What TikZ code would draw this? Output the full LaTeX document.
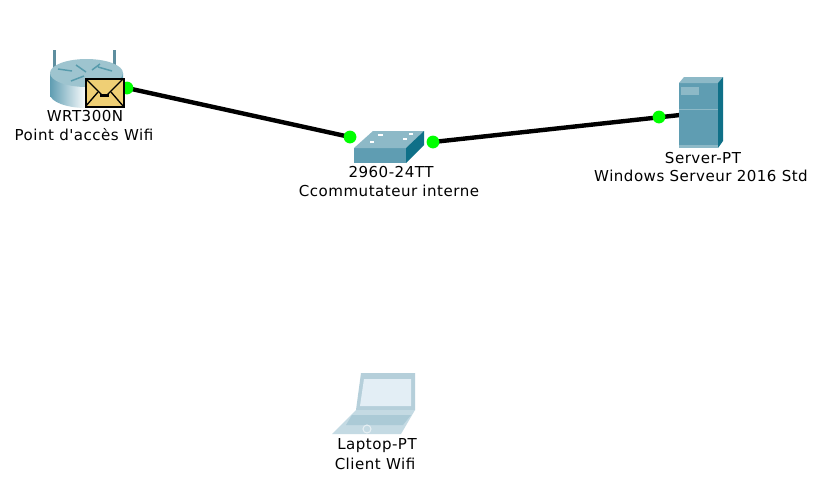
\documentclass[tikz,border=0pt]{standalone}
\usepackage{fontspec}
\newfontfamily\labelfont[LetterSpace=3.2]{DejaVu Sans}
\definecolor{devteal}{HTML}{5F9DB2}
\definecolor{devdark}{HTML}{0F7088}
\definecolor{devlight}{HTML}{8DB9C7}
\definecolor{antenna}{HTML}{5E8E9F}
\definecolor{lapframe}{HTML}{B5CFDA}
\definecolor{lapscreen}{HTML}{E3EEF5}
\definecolor{lapbase}{HTML}{C4DAE3}
\definecolor{lapkeys}{HTML}{ABCAD6}
\definecolor{envfill}{HTML}{EFCF75}
\tikzset{
  x=0.75pt,y=-0.75pt,
  linkline/.style={line width=3.3pt,black},
  portdot/.style={circle,fill=green,inner sep=0pt,minimum size=9.6pt,draw=none},
  devlabel/.style={font=\labelfont\fontsize{11.3pt}{13pt}\selectfont,text=black,inner sep=0pt,align=center,anchor=center},
}
\begin{document}
\begin{tikzpicture}
\useasboundingbox (0,0) rectangle (835,487);
\fill[white] (0,0) rectangle (835,487);
% anchors
\coordinate (routerport) at (127,88);
\coordinate (swleft) at (350,137);
\coordinate (swright) at (433,142);
\coordinate (srvedge) at (680,115);
% links
\draw[linkline] (routerport) -- (swleft);
\draw[linkline] (swright) -- (srvedge);
% router
\fill[antenna] (52.5,50) rectangle (56,72);
\fill[antenna] (112.5,50) rectangle (116,72);
\shade[left color=devteal,right color=devteal,middle color=white] (50,73) -- (50,94) arc[start angle=180,end angle=0,x radius=36.5,y radius=14] -- (123,73) -- cycle;
\fill[devlight!85!white] (86.5,73) ellipse[x radius=36.5,y radius=14];
\draw[devdark!70,line width=1.1pt] (58,69) -- (72,71) (98,67) -- (112,71) (71,81) -- (84,76) (92,70) -- (100,64) (76,65) -- (86,72);
% switch
\fill[devteal] (354,148) -- (406,148) -- (406,163) -- (354,163) -- cycle;
\fill[devlight] (354,148) -- (373,131) -- (424,131) -- (406,148) -- cycle;
\fill[devdark] (406,148) -- (424,131) -- (424,145) -- (406,163) -- cycle;
\draw[white,line width=1pt] (378,135) -- (383,135) (409,134) -- (413,134) (370,142) -- (374,142) (403,139) -- (407,139);
% server
\fill[devteal] (679,83) rectangle (718,148);
\fill[devlight] (679,83) -- (684,77) -- (723,77) -- (718,83) -- cycle;
\fill[devdark] (718,83) -- (723,77) -- (723,141) -- (718,148) -- cycle;
\fill[devlight] (681,87) rectangle (699,95);
\fill[devlight] (679,108.5) rectangle (718,110);
\fill[devlight] (679,145) rectangle (718,148);
% laptop
\fill[lapframe] (361,373) -- (415,373) -- (415,410) -- (356,410) -- cycle;
\fill[lapscreen] (364,379) -- (411,379) -- (411,406) -- (360,406) -- cycle;
\fill[lapbase] (356,410) -- (415,410) -- (401,434) -- (332,434) -- cycle;
\fill[lapkeys] (352,415) -- (411,415) -- (403,425) -- (346,425) -- cycle;
\draw[white!70!lapkeys,line width=0.8pt] (367,429) circle[radius=4];
% port dots
\node[portdot] (d1) at (routerport) {};
\node[portdot] (d2) at (swleft) {};
\node[portdot] (d3) at (swright) {};
\node[portdot] (d4) at (659,117) {};
% envelope
\filldraw[fill=envfill,draw=black,line width=1.5pt] (85.5,78.5) rectangle (123.5,106.5);
\draw[black,line width=1pt] (85.5,78.5) -- (102,95) -- (107,95) -- (123.5,78.5);
\draw[black,line width=1pt] (85.5,106.5) -- (98,92) (123.5,106.5) -- (111,92);
\fill[black] (100,94) rectangle (109,97);
% labels
\node[devlabel] (l1) at (85,116) {WRT300N};
\node[devlabel] (l2) at (84,135) {Point d'accès Wifi};
\node[devlabel] (l3) at (391,172) {2960-24TT};
\node[devlabel] (l4) at (389,191) {Ccommutateur interne};
\node[devlabel] (l5) at (703,158) {Server-PT};
\node[devlabel] (l6) at (701,176) {Windows Serveur 2016 Std};
\node[devlabel] (l7) at (377,446) {Laptop-PT};
\node[devlabel] (l8) at (375,464) {Client Wifi};
\end{tikzpicture}
\end{document}
